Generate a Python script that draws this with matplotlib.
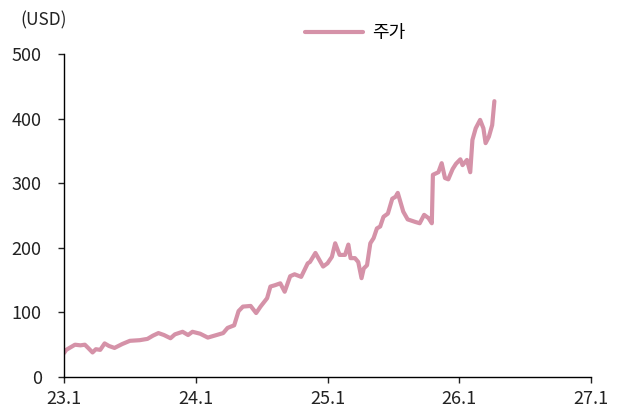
import matplotlib
matplotlib.use("Agg")
import matplotlib.pyplot as plt

plt.rcParams['font.family'] = ['Noto Sans CJK KR', 'DejaVu Sans']

# 월 단위 경과(23.1 = 0) 와 주가(USD)
months = [0.0, 0.2, 0.5, 1.0, 1.5, 1.9, 2.2, 2.6, 2.9, 3.3, 3.7, 4.1, 4.6,
          5.3, 6.0, 6.9, 7.6, 8.1, 8.6, 9.1, 9.7, 10.1, 10.8, 11.3, 11.7,
          12.4, 13.1, 13.9, 14.5, 14.9, 15.5, 15.9, 16.3, 17.0, 17.5, 17.9,
          18.5, 18.8, 19.2, 19.7, 20.1, 20.6, 21.0, 21.6, 22.2, 22.4, 22.9,
          23.1, 23.6, 24.0, 24.4, 24.7, 25.1, 25.6, 25.9, 26.1, 26.5, 26.8,
          27.1, 27.3, 27.6, 27.9, 28.2, 28.5, 28.8, 29.1, 29.5, 29.9, 30.2,
          30.4, 30.9, 31.3, 32.0, 32.4, 32.8, 33.2, 33.5, 33.6, 34.1, 34.4,
          34.7, 35.0, 35.4, 35.7, 36.1, 36.3, 36.7, 37.0, 37.2, 37.5, 37.9,
          38.2, 38.4, 38.7, 39.0, 39.2]
price = [37, 42, 45, 50, 49, 50, 45, 38, 43, 42, 52, 48, 45,
         51, 56, 57, 59, 64, 68, 65, 60, 66, 70, 65, 70,
         67, 61, 65, 68, 76, 80, 102, 109, 110, 99, 109,
         122, 140, 142, 145, 132, 156, 159, 155, 176, 178, 192,
         186, 171, 176, 186, 207, 189, 189, 205, 184, 184, 178,
         153, 168, 173, 207, 215, 230, 233, 248, 253, 276, 279,
         285, 256, 244, 240, 238, 251, 246, 238, 313, 317, 331,
         308, 306, 322, 330, 337, 328, 336, 317, 367, 385, 398,
         385, 362, 372, 390, 427]

xticks = [0, 12, 24, 36, 48]
xlabels = ['23.1', '24.1', '25.1', '26.1', '27.1']
yticks = [0, 100, 200, 300, 400, 500]

fig = plt.figure(figsize=(6.17, 4.12), dpi=100)
ax = fig.add_axes([64 / 617, 35 / 412, 527 / 617, 323 / 412])

ax.plot(months, price, color='#D592A8', linewidth=3.0,
        solid_joinstyle='round', solid_capstyle='round', label='주가')

ax.set_xlim(0, 48)
ax.set_ylim(0, 500)
ax.set_xticks(xticks)
ax.set_xticklabels(xlabels)
ax.set_yticks(yticks)

for s in ['top', 'right']:
    ax.spines[s].set_visible(False)
for s in ['left', 'bottom']:
    ax.spines[s].set_linewidth(1.0)
    ax.spines[s].set_color('black')
ax.tick_params(direction='out', length=4, width=1.0, labelsize=13,
               colors='#222222')
ax.tick_params(axis='x', pad=5)
ax.tick_params(axis='y', pad=12)

fig.text(20 / 617, 1 - 20 / 412, '(USD)', fontsize=12.5, va='center',
         ha='left', color='#222222')

ax.legend(loc='center', bbox_to_anchor=(355 / 617, 1 - 33 / 412),
          bbox_transform=fig.transFigure, frameon=False, fontsize=13,
          handlelength=3.2, handletextpad=0.5)

fig.savefig('out.png', dpi=100)
